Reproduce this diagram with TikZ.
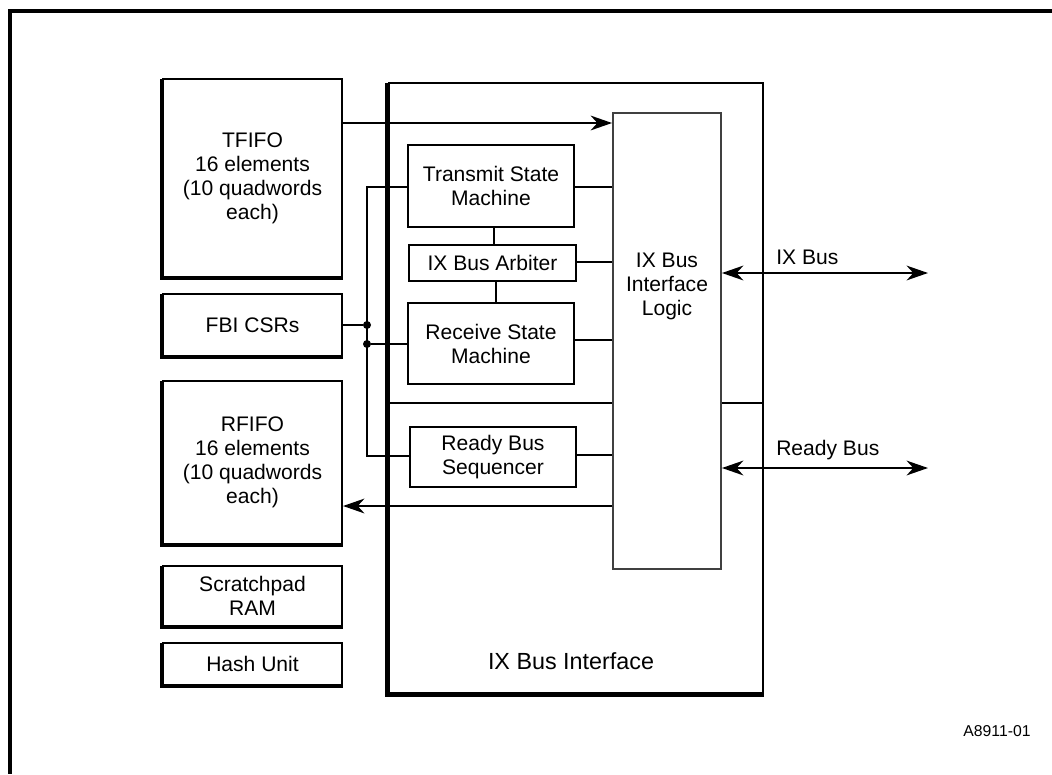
\documentclass[tikz,border=0pt]{standalone}
\usepackage{fontspec}
\setmainfont{Liberation Sans}
\usetikzlibrary{arrows.meta}
\begin{document}
\begin{tikzpicture}[x=0.75pt,y=-0.75pt,
  txt/.style={font=\fontsize{15.8}{18}\selectfont, align=center, inner sep=0pt},
  box/.style={draw, line width=1.5pt, txt, minimum width=#1},
  box/.default={124.5pt},
  thin box/.style={draw=black!75, line width=1.4pt, inner sep=0pt},
  shadowedge/.style={line width=3.2pt},
  conn/.style={line width=2pt},
  arr/.style={conn, -{Stealth[length=16pt,width=11pt,inset=5pt]}},
  darr/.style={conn, {Stealth[length=16pt,width=11pt,inset=5pt]}-{Stealth[length=16pt,width=11pt,inset=5pt]}},
  dot/.style={circle, fill, inner sep=0pt, minimum size=6pt}]
\useasboundingbox (0,0) rectangle (1052,774);

% frame (only top and left visible)
\coordinate (ftl) at (10,11);
\coordinate (ftr) at (1052,11);
\coordinate (fbl) at (10,774);
\draw[line width=2.4pt] (ftr) -- (ftl) -- (fbl);

% left column boxes
\node[box=134.25pt, minimum height=148.5pt] (tfifo) at (252.5,178) {TFIFO\\16 elements\\(10 quadwords\\each)};
\node[box=134.25pt, minimum height=46.5pt] (fbi) at (252.5,325) {FBI CSRs};
\node[box=134.25pt, minimum height=122.25pt] (rfifo) at (252.5,462.5) {RFIFO\\16 elements\\(10 quadwords\\each)};
\node[box=134.25pt, minimum height=45pt] (scratch) at (252.5,596) {Scratchpad\\RAM};
\node[box=134.25pt, minimum height=31.5pt] (hash) at (252.5,664) {Hash Unit};

% IX Bus Interface big box
\node[draw, line width=1.8pt, minimum width=280.5pt, minimum height=457.5pt, inner sep=0pt] (ixbi) at (576,388) {};
\node[txt, font=\fontsize{17.5}{20}\selectfont] (ixbilabel) at (571,661) {IX Bus Interface};

\foreach \n in {tfifo,fbi,rfifo,scratch,hash}
  \draw[shadowedge] ([yshift=-0.7pt]\n.north west) -- (\n.south west) -- (\n.south east);
\draw[line width=3.8pt] ([yshift=-0.9pt]ixbi.north west) -- (ixbi.south west) -- (ixbi.south east);

% IX Bus Interface Logic
\node[thin box, minimum width=81pt, minimum height=342pt, fill=white] (logic) at (667,341) {};
\node[txt] (logictext) at (667,286) {IX Bus\\Interface\\Logic};

% inner boxes
\node[box, fill=white, minimum height=61.5pt] (tsm) at (491,186) {Transmit State\\Machine};
\node[box=125.25pt, fill=white, minimum height=27pt] (arb) at (492.5,263) {IX Bus Arbiter};
\node[box, fill=white, minimum height=60.75pt] (rsm) at (491,343.5) {Receive State\\Machine};
\node[box, fill=white, minimum height=45pt] (rbs) at (493,457) {Ready Bus\\Sequencer};

% divider
\draw[conn] (ixbi.west |- 0,403) -- (logic.west |- 0,403);
\draw[conn] (logic.east |- 0,403) -- (ixbi.east |- 0,403);

% connections to logic
\draw[arr] (tfifo.east |- 0,123) -- (logic.west |- 0,123);
\draw[conn] (tsm.east |- 0,187) -- (logic.west |- 0,187);
\draw[conn] (arb.east |- 0,262) -- (logic.west |- 0,262);
\draw[conn] (rsm.east |- 0,340) -- (logic.west |- 0,340);
\draw[conn] (rbs.east |- 0,455) -- (logic.west |- 0,455);
\draw[arr] (logic.west |- 0,506) -- (rfifo.east |- 0,506);

% state machine chain
\draw[conn] (tsm.south -| 494,0) -- (arb.north -| 494,0);
\draw[conn] (arb.south -| 496,0) -- (rsm.north -| 496,0);

% bus on the left
\coordinate (bt) at (367,187);
\coordinate (bb) at (367,456);
\node[dot] (d1) at (367,325) {};
\node[dot] (d2) at (367,344) {};
\draw[conn] (tsm.west |- bt) -- (bt) -- (bb) -- (rbs.west |- bb);
\draw[conn] (fbi.east |- d1) -- (d1);
\draw[conn] (d2) -- (rsm.west |- d2);

% external buses
\coordinate (ixend) at (928,273);
\coordinate (rbend) at (928,468);
\draw[darr] (logic.east |- ixend) -- (ixend);
\draw[darr] (logic.east |- rbend) -- (rbend);
\node[txt, anchor=west] (ixlabel) at (776,257) {IX Bus};
\node[txt, anchor=west] (rblabel) at (776,450) {Ready Bus};

\node[txt, font=\fontsize{11.8}{14}\selectfont] (fig) at (997,731) {A8911-01};
\end{tikzpicture}
\end{document}
